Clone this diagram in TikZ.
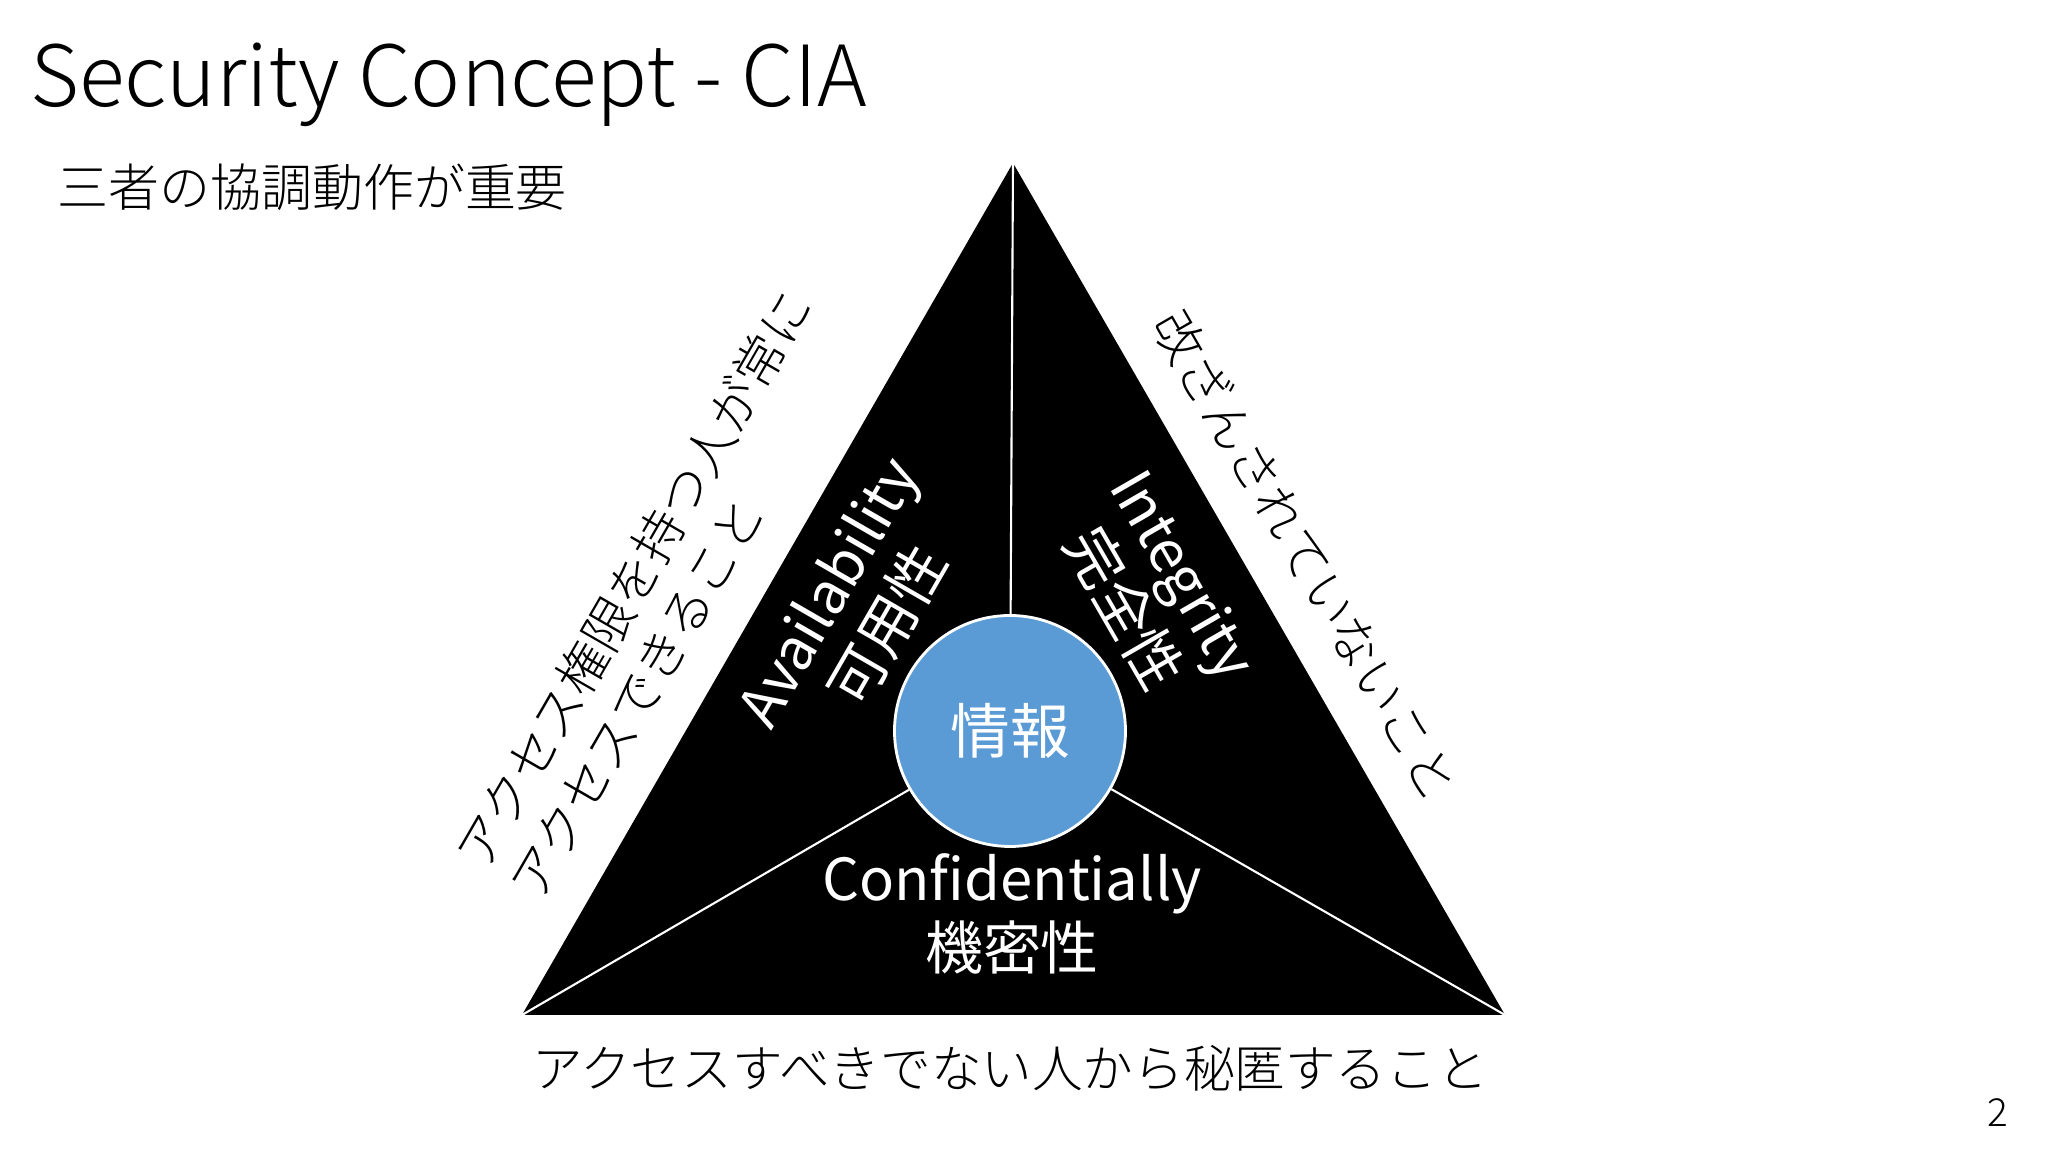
\documentclass[tikz,border=0pt]{standalone}
\usepackage{fontspec}
\setmainfont{Noto Sans CJK JP}
\newfontfamily\lightfont{Noto Sans CJK JP Light}
\usetikzlibrary{positioning,calc}
\tikzset{every picture/.style={line width=0.75pt}}
\definecolor{infoblue}{HTML}{5B9BD5}

\begin{document}
\begin{tikzpicture}[
    sidetext/.style={font=\lightfont\fontsize{14.4}{17.6}\selectfont, align=left, inner sep=0pt},
    parttext/.style={font=\fontsize{16.5}{19.5}\selectfont, text=white, align=center, inner sep=0pt},
    link/.style={draw=white, line width=0.6pt}
]
    \useasboundingbox (0,0) rectangle (20.48,11.52);

    % --- 見出し ---
    \node[anchor=base west, inner sep=0pt, font=\lightfont\fontsize{24}{28}\selectfont] (title) at (0.29,10.45) {Security Concept - CIA};
    \node[anchor=west, inner sep=0pt, font=\lightfont\fontsize{14.5}{17}\selectfont] (sub) at (0.56,9.65) {三者の協調動作が重要};

    % --- 三角形 ---
    \coordinate (apex) at (10.13,9.89);
    \coordinate (bl) at (5.22,1.37);
    \coordinate (br) at (15.05,1.37);
    \fill[black] (apex) -- (bl) -- (br) -- cycle;

    % 中心の円
    \node[circle, fill=infoblue, draw=white, line width=0.8pt, minimum size=2.31cm, inner sep=0pt,
          text=white, font=\fontsize{17}{20}\selectfont] (info) at (10.10,4.21) {情報};
    \foreach \v in {apex, bl, br} {
        \draw[link] (\v) -- (info);
    }

    % 三要素
    \node[parttext, rotate=60] (avail) at (8.58,5.43) {Availability\\可用性};
    \node[parttext, rotate=-60] (integ) at (11.53,5.60) {Integrity\\完全性};
    \node[parttext] (conf) at (10.12,2.38) {Confidentially\\機密性};

    % --- 外側の説明 ---
    \node[sidetext, rotate=60] (availtxt) at (6.60,5.58) {アクセス権限を持つ人が常に\\アクセスできること};
    \node[sidetext, rotate=-60] (integtxt) at (13.06,5.97) {改ざんされていないこと};
    \node[sidetext] (conftxt) at (10.10,0.84) {アクセスすべきでない人から秘匿すること};

    % ページ番号
    \node[inner sep=0pt, font=\lightfont\fontsize{11}{13}\selectfont] (page) at (19.98,0.39) {2};
\end{tikzpicture}
\end{document}
